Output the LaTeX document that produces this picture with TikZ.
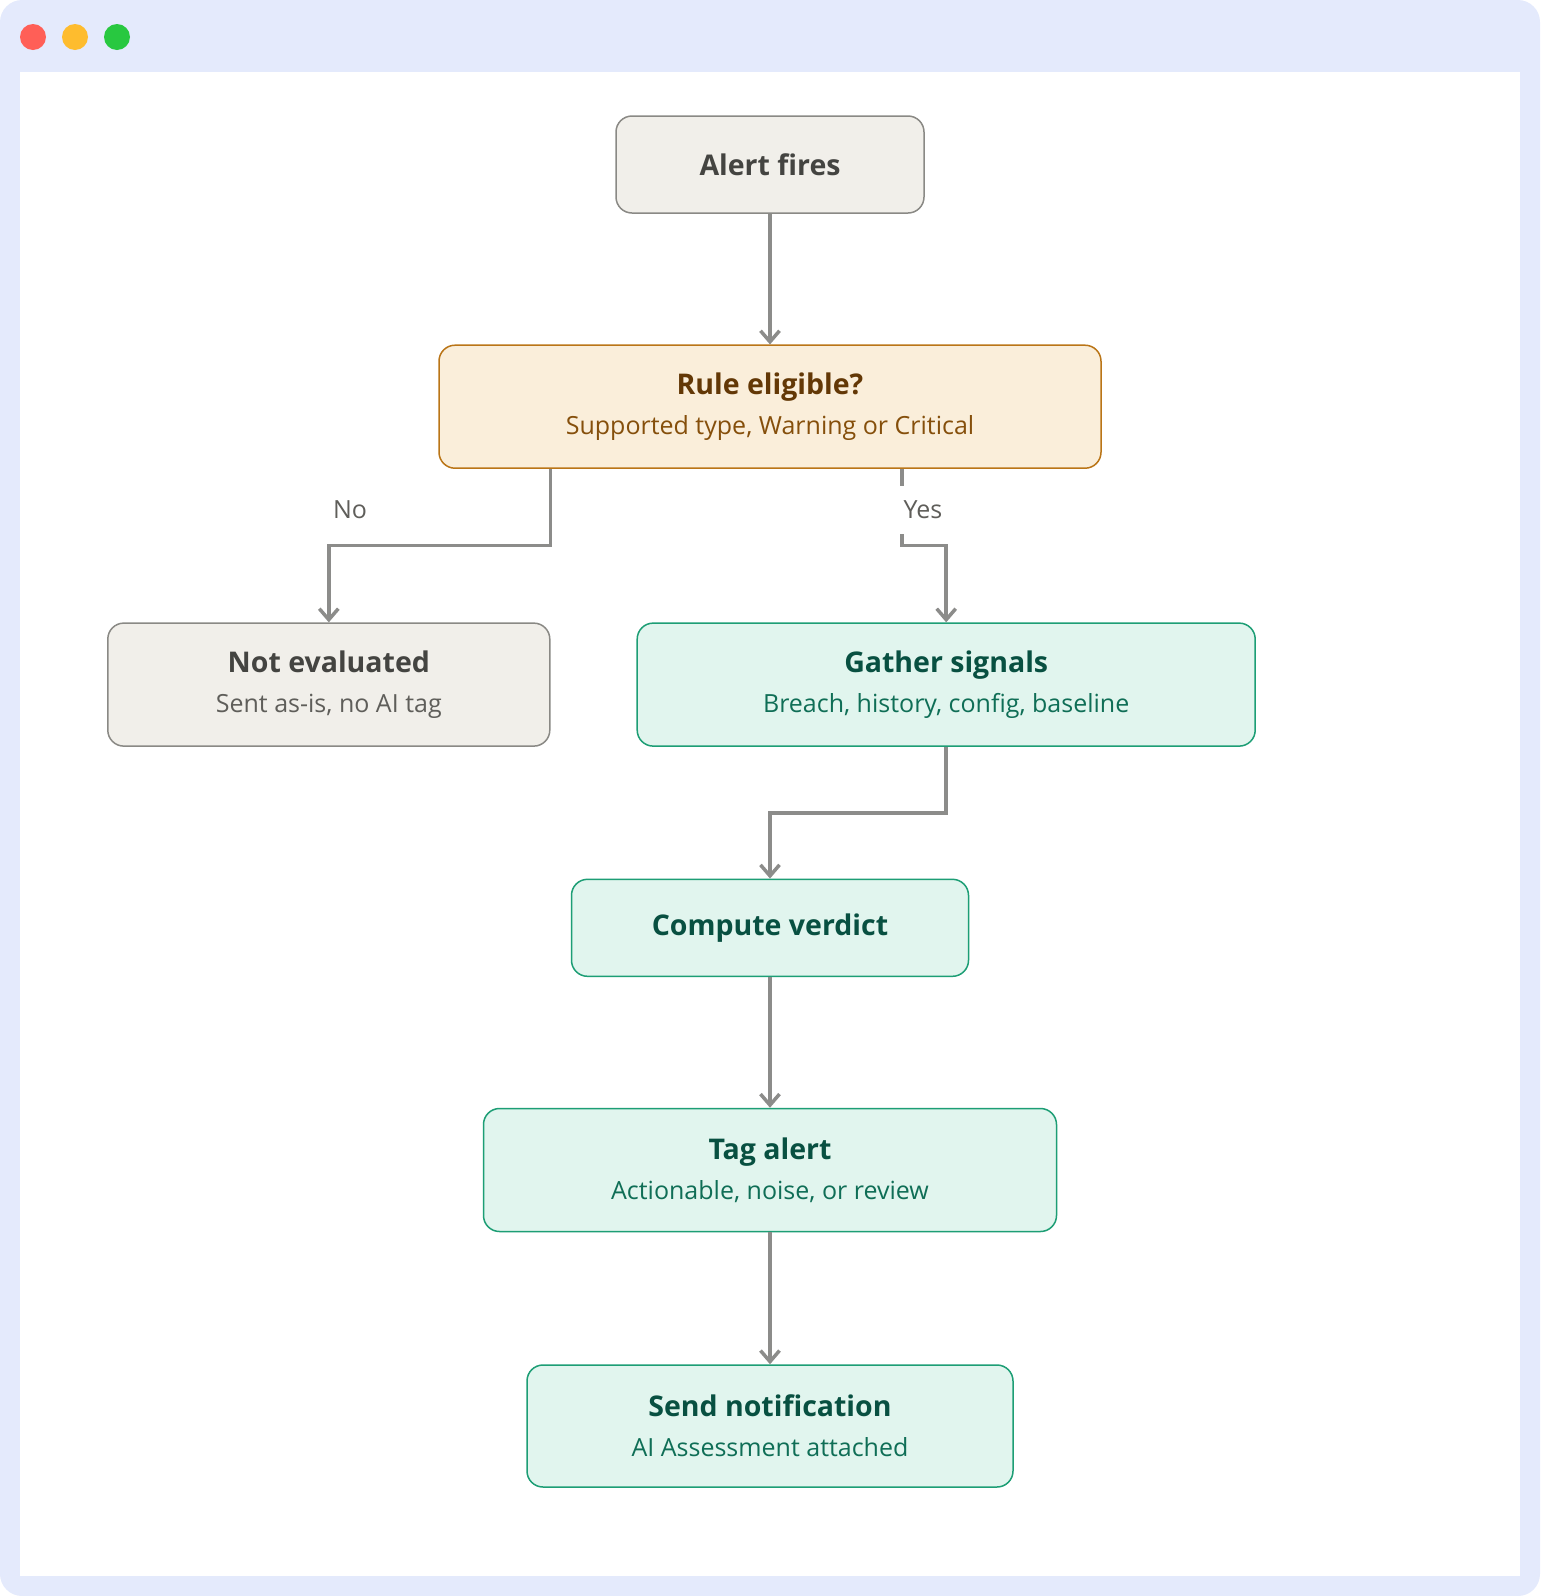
\documentclass[tikz,border=0pt]{standalone}
\usepackage{fontspec}
\setmainfont{Open Sans}
\usepackage{xcolor}
\usepackage{tikz}
\usetikzlibrary{arrows.meta, calc}

\definecolor{framebg}{HTML}{E4EAFC}
\definecolor{dotred}{HTML}{FF5F57}
\definecolor{dotyellow}{HTML}{FEBC2E}
\definecolor{dotgreen}{HTML}{28C840}
\definecolor{greyfill}{HTML}{F1EFEA}
\definecolor{greyline}{HTML}{8A8985}
\definecolor{greytitle}{HTML}{444441}
\definecolor{greysub}{HTML}{5F5E5A}
\definecolor{amberfill}{HTML}{FAEEDA}
\definecolor{amberline}{HTML}{BA7517}
\definecolor{ambertitle}{HTML}{633806}
\definecolor{ambersub}{HTML}{854F0B}
\definecolor{tealfill}{HTML}{E1F5EE}
\definecolor{tealline}{HTML}{1D9E75}
\definecolor{tealtitle}{HTML}{085041}
\definecolor{tealsub}{HTML}{0F6E56}
\definecolor{flowgrey}{HTML}{8C8C8A}

\newcommand{\titlefont}{\fontsize{28.5}{40}\selectfont\bfseries}
\newcommand{\subfont}{\fontsize{25}{40}\selectfont}

\tikzset{
 box/.style={rounded corners=16pt, line width=1.5pt, align=center, inner sep=0pt, font=\subfont},
 greybox/.style={box, fill=greyfill, draw=greyline, text=greytitle},
 amberbox/.style={box, fill=amberfill, draw=amberline, text=ambertitle},
 tealbox/.style={box, fill=tealfill, draw=tealline, text=tealtitle},
 flow/.style={draw=flowgrey, line width=3.5pt, -{Straight Barb[length=11pt,width=19pt]}},
 branch/.style={fill=white, text=greysub, inner sep=0pt, minimum width=50pt, minimum height=48pt, font=\subfont},
}

\begin{document}
\begin{tikzpicture}[x=1pt, y=-1pt]
 % window frame
 \fill[framebg, rounded corners=22pt] (0,0) rectangle (1540,1596);
 \fill[white] (20,72) rectangle (1520,1576);
 \fill[dotred] (33,37) circle (13);
 \fill[dotyellow] (75,37) circle (13);
 \fill[dotgreen] (117,37) circle (13);

 % boxes
 \node[greybox, minimum width=308pt, minimum height=97pt] (fires) at (770,164.5)
  {\titlefont Alert fires};
 \node[amberbox, minimum width=662pt, minimum height=123pt] (rule) at (770,406.7)
  {{\titlefont Rule eligible?}\\ {\color{ambersub} Supported type, Warning or Critical}};
 \node[greybox, minimum width=442pt, minimum height=123pt] (noteval) at (328.8,684.6)
  {{\titlefont Not evaluated}\\ {\color{greysub} Sent as-is, no AI tag}};
 \node[tealbox, minimum width=618pt, minimum height=123pt] (gather) at (946.2,684.6)
  {{\titlefont Gather signals}\\ {\color{tealsub} Breach, history, config, baseline}};
 \node[tealbox, minimum width=397pt, minimum height=97pt] (verdict) at (770,927.8)
  {\titlefont Compute verdict};
 \node[tealbox, minimum width=573pt, minimum height=123pt] (tag) at (770,1170)
  {{\titlefont Tag alert}\\ {\color{tealsub} Actionable, noise, or review}};
 \node[tealbox, minimum width=486pt, minimum height=122pt] (send) at (770,1426)
  {{\titlefont Send notification}\\ {\color{tealsub} AI Assessment attached}};

 \coordinate (split) at (0,545.6);
 \coordinate (yesstart) at ($(rule.south)+(132,0)$);

 % connectors
 \draw[flow] (fires) -- (rule);
 \draw[flow] (rule.south -| noteval.east) -- (noteval.east |- split) -| (noteval.north);
 \draw[flow] (yesstart) -- (yesstart |- split) -| (gather.north);
 \draw[flow] (gather.south) -- ++(0,66) -| (verdict.north);
 \draw[flow] (verdict) -- (tag);
 \draw[flow] (tag) -- (send);

 \node[branch] (nolabel) at (350,510) {No};
 \node[branch] (yeslabel) at (923,510) {Yes};
\end{tikzpicture}
\end{document}
